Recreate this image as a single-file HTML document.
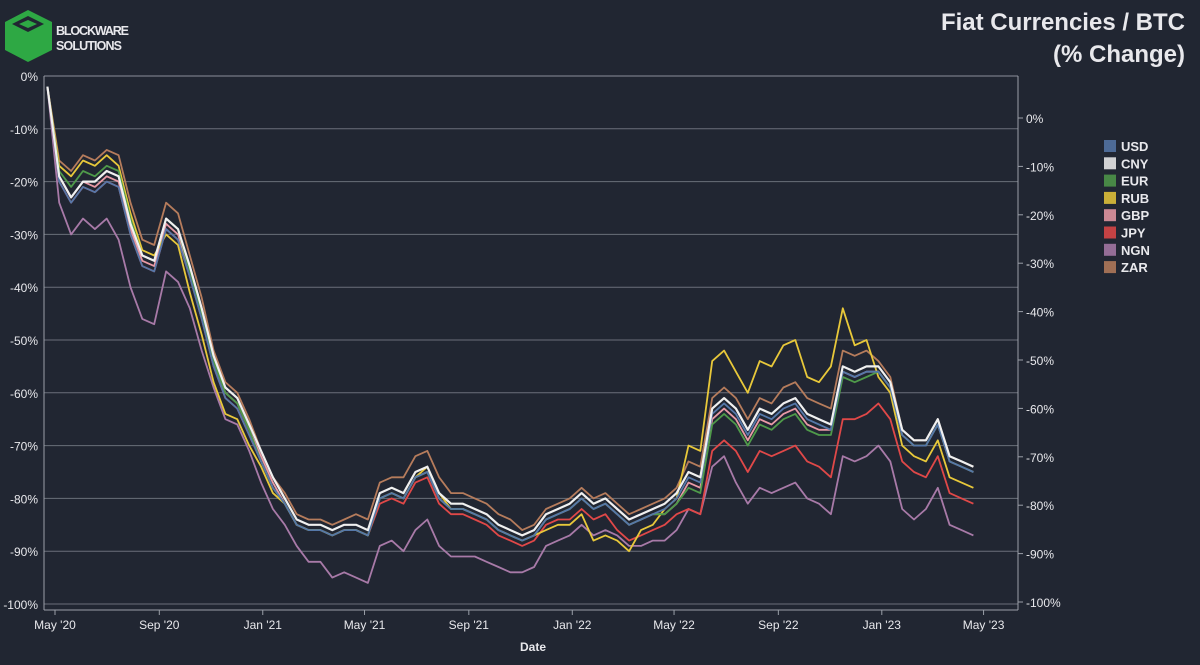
<!DOCTYPE html>
<html><head><meta charset="utf-8"><style>
body{margin:0;background:#212632;}
svg text{font-family:"Liberation Sans",sans-serif;fill:#e8e8ec;}
</style></head><body>
<svg width="1200" height="660" viewBox="0 0 1200 660">
<rect width="1200" height="660" fill="#212632"/>
<g>
<polygon points="28,10 52,22 52,50 28,62 5,50 5,22" fill="#2ea844"/>
<polygon points="28,16 44,24 28,32 12,24" fill="#212632"/>
<polygon points="28,20 37,24 28,28 19,24" fill="#2ea844"/>
<text x="56" y="35" font-size="12.5" font-weight="bold" textLength="73">BLOCKWARE</text>
<text x="56" y="50" font-size="12.5" font-weight="bold" textLength="66">SOLUTIONS</text>
</g>
<text x="1185" y="30" font-size="24" font-weight="bold" text-anchor="end">Fiat Currencies / BTC</text>
<text x="1185" y="62" font-size="24" font-weight="bold" text-anchor="end">(% Change)</text>
<g id="grid"></g>
<g id="series"></g>
<g id="axes"></g>
<g id="legend"></g>
<text x="533" y="651" font-size="12" font-weight="bold" text-anchor="middle">Date</text>
</svg>
<script>
const leftTicks=[0,-10,-20,-30,-40,-50,-60,-70,-80,-90,-100];
const rightTicks=[0,-10,-20,-30,-40,-50,-60,-70,-80,-90,-100];
const xTickLabels=["May '20","Sep '20","Jan '21","May '21","Sep '21","Jan '22","May '22","Sep '22","Jan '23","May '23"];
const xTickDates=["2020-05-01","2020-09-01","2021-01-01","2021-05-01","2021-09-01","2022-01-01","2022-05-01","2022-09-01","2023-01-01","2023-05-01"];
const startDate="2020-04-22";
const stepDays=14;
const usd=[-2,-20,-24,-21,-22,-20,-21,-30,-36,-37,-29,-31,-38,-46,-55,-61,-63,-68,-73,-78,-81,-85,-86,-86,-87,-86,-86,-87,-80,-79,-80,-76,-75,-80,-82,-82,-83,-84,-86,-87,-88,-87,-84,-83,-82,-80,-82,-81,-83,-85,-84,-83,-82,-80,-76,-77,-64,-62,-64,-68,-64,-65,-63,-62,-65,-66,-67,-56,-57,-56,-56,-59,-68,-70,-70,-66,-73,-74,-75];
const cnyOff=[1,1,2,2,2,2,2,2,2,2,1,1,1,1,1,1,1,1,1,1,1,1,1,1,1,1,1,1,1,1,1,1,1,1,1,1,1,1,1,1];
const eurOff=[2,3,3,3,2,2,1,1,1,0,0,0,0,0,0,0,0,0,0,0,0,0,0,0,0,0,-1,-2,-2,-2,-2,-2,-2,-1,-1,0,0,0,0,0];
const rubOff=[3,5,5,4,3,-1,-3,-3,-2,-1,0,0,0,0,0,0,1,0,0,0,0,-2,-3,-6,-5,-2,0,6,10,8,10,12,8,12,6,-1,-2,-3,-3,-3];
const gbpOff=[1,1,1,1,1,1,1,1,1,1,0,0,0,0,0,0,0,0,0,0,0,0,0,0,0,0,-1,-1,-1,-1,-1,-1,-1,0,0,0,0,0,0,0];
const jpyOff=[0,0,0,0,0,0,0,0,0,0,0,0,0,0,-1,-1,-1,-1,-1,-1,-1,-1,-2,-2,-3,-3,-3,-6,-7,-7,-7,-8,-8,-9,-8,-6,-5,-6,-6,-6];
const ngnOff=[-4,-6,-7,-10,-10,-8,-6,-4,-3,-4,-4,-6,-8,-9,-9,-10,-9,-9,-8,-7,-6,-5,-5,-5,-4,-5,-6,-6,-10,-13,-14,-15,-15,-16,-16,-14,-14,-12,-12,-12];
const zarOff=[4,6,6,6,5,5,4,3,3,2,2,2,2,3,3,4,4,3,3,3,2,2,2,2,2,2,2,3,3,3,3,4,4,4,4,2,1,1,1,1];
const legendNames=["USD","CNY","EUR","RUB","GBP","JPY","NGN","ZAR"];
const colors={USD:"#5577a8",CNY:"#f0f0f0",EUR:"#4f9a4a",RUB:"#e8c83a",GBP:"#e99aa6",JPY:"#e04848",NGN:"#a87aa8",ZAR:"#b67c5c"};
const NS="http://www.w3.org/2000/svg";
const X0=44,X1=1018;
const yL=v=>76+(-v)*5.28;
const yR=v=>118+(-v)*4.84;
const refX=55,refD=Date.parse("2020-05-01"),pxPerDay=0.848;
const xD=ms=>refX+(ms-refD)/86400000*pxPerDay;
function mk(tag,attrs,parent){const e=document.createElementNS(NS,tag);for(const k in attrs)e.setAttribute(k,attrs[k]);parent.appendChild(e);return e;}
const grid=document.getElementById('grid'),axes=document.getElementById('axes'),ser=document.getElementById('series'),leg=document.getElementById('legend');
leftTicks.forEach(v=>{
 const g=mk('line',{x1:X0,x2:X1,y1:yL(v),y2:yL(v),stroke:v===0?"#8a8f9a":"#6a6f7a","stroke-width":1},grid);
 
 
 const t=mk('text',{x:38,y:yL(v)+5,"font-size":12,"text-anchor":"end"},axes);t.textContent=v+"%";
 
 
});
rightTicks.forEach(v=>{
 mk('line',{x1:X1,x2:X1+5,y1:yR(v),y2:yR(v),stroke:"#9a9fa8"},axes);
 const t=mk('text',{x:X1+8,y:yR(v)+5,"font-size":12},axes);t.textContent=v+"%";
 
 
});
mk('line',{x1:X0,x2:X0,y1:76,y2:610,stroke:"#9a9fa8"},axes);
mk('line',{x1:X1,x2:X1,y1:76,y2:610,stroke:"#9a9fa8"},axes);
mk('line',{x1:X0,x2:X1,y1:610,y2:610,stroke:"#9a9fa8"},axes);
xTickLabels.forEach((l,i)=>{
 const x=xD(Date.parse(xTickDates[i]));
 mk('line',{x1:x,x2:x,y1:610,y2:615,stroke:"#9a9fa8"},axes);
 const t=mk('text',{x:x,y:629,"font-size":12,"text-anchor":"middle"},axes);t.textContent=l;
 
 
});
const offs={USD:null,CNY:cnyOff,EUR:eurOff,RUB:rubOff,GBP:gbpOff,JPY:jpyOff,NGN:ngnOff,ZAR:zarOff};
const s0=Date.parse(startDate);
["NGN","ZAR","JPY","GBP","RUB","EUR","USD","CNY"].forEach(n=>{
 const o=offs[n];
 const pts=usd.map((v,i)=>{const val=i===0?v:v+(o?o[Math.floor(i/2)]:0);return xD(s0+i*stepDays*86400000).toFixed(1)+","+yL(Math.min(0,val)).toFixed(1);});
 const p=mk('polyline',{points:pts.join(" "),fill:"none",stroke:colors[n],"stroke-width":n==="CNY"?2.2:1.8,"stroke-linejoin":"round"},ser);
 
 
});
legendNames.forEach((n,i)=>{
 const y=140+i*17.3;
 const r=mk('rect',{x:1104,y:y,width:12,height:12,fill:colors[n],opacity:0.85},leg);
 
 
 const t=mk('text',{x:1121,y:y+11,"font-size":13,"font-weight":"bold"},leg);t.textContent=n;
 
 
});
</script>
</body></html>
